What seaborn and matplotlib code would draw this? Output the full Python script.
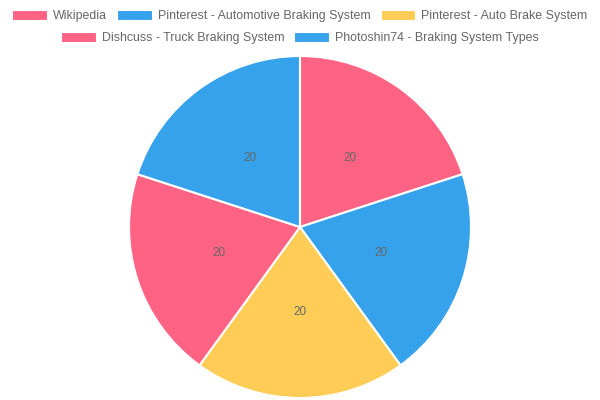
import matplotlib
matplotlib.use("Agg")
import matplotlib.pyplot as plt
import seaborn as sns
from matplotlib.patches import Patch

sources = ['Wikipedia', 'Pinterest - Automotive Braking System', 'Pinterest - Auto Brake System',
           'Dishcuss - Truck Braking System', 'Photoshin74 - Braking System Types']
counts = [20, 20, 20, 20, 20]
colors = ['#ff6384', '#36a2eb', '#ffcd56', '#ff6384', '#36a2eb']

sns.set_theme(style='white')
plt.rcParams['font.family'] = ['Liberation Sans', 'DejaVu Sans']

fig = plt.figure(figsize=(6, 4), dpi=100)
ax = fig.add_axes([0.215, 0.005, 0.57, 0.855])

total = sum(counts)
ax.pie(counts, colors=colors, startangle=90, counterclock=False,
       autopct=lambda p: f'{p * total / 100:.0f}', pctdistance=0.5,
       wedgeprops=dict(edgecolor='white', linewidth=1.5),
       textprops=dict(color='#666666', fontsize=8.5))
ax.set_xlim(-1, 1)
ax.set_ylim(-1, 1)
ax.set_aspect('equal')

# legend: two centred rows like the original
handles = [Patch(facecolor=c, edgecolor='white', linewidth=0.8) for c in colors]
leg_kw = dict(frameon=False, fontsize=8.9, labelcolor='#666666', handlelength=2.8,
              handleheight=0.85, handletextpad=0.5, columnspacing=0.8, borderpad=0, borderaxespad=0)
fig.legend(handles[:3], sources[:3], ncol=3, loc='center', bbox_to_anchor=(0.5, 1 - 16 / 400), **leg_kw)
fig.legend(handles[3:], sources[3:], ncol=2, loc='center', bbox_to_anchor=(0.5, 1 - 38 / 400), **leg_kw)

fig.savefig('out.png', dpi=100)
